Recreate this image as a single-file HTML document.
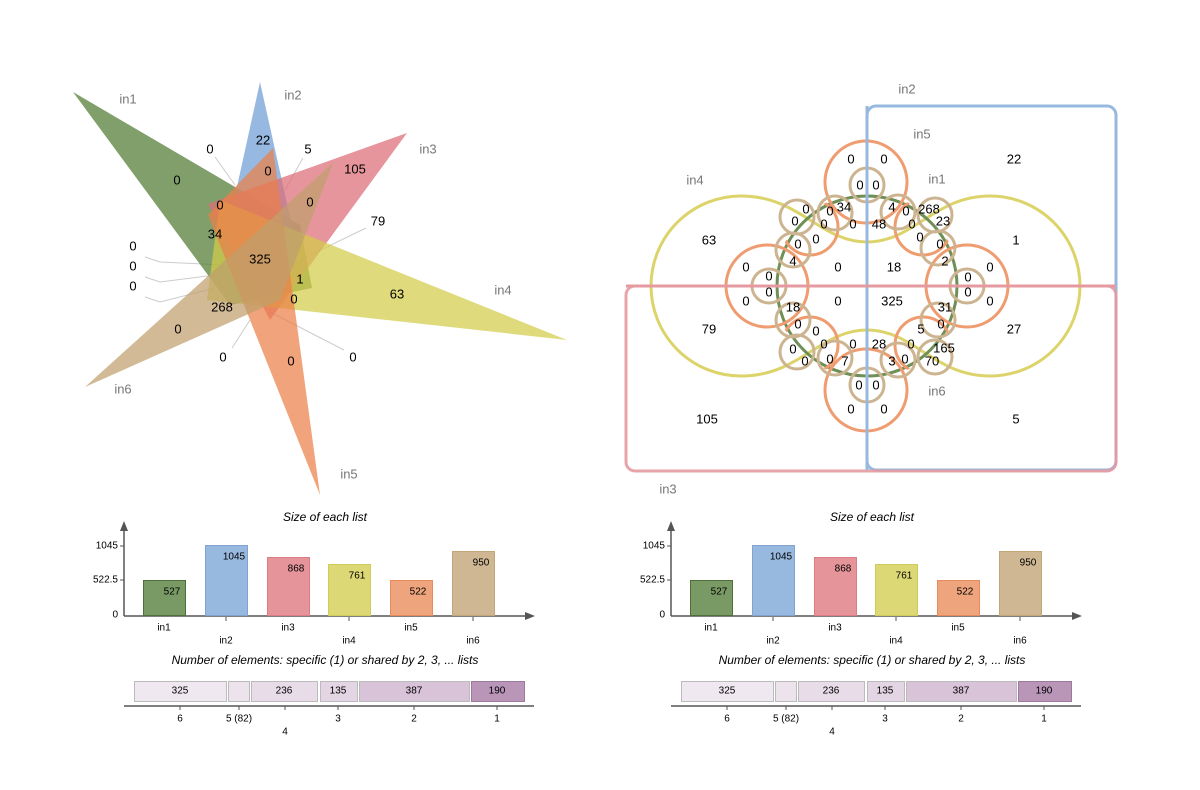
<!DOCTYPE html>
<html><head><meta charset="utf-8"><style>
html,body{margin:0;padding:0;background:#fff;}
svg{display:block;font-family:"Liberation Sans",Arial,sans-serif;}
.n{font-size:13px;fill:#000;text-anchor:middle;dominant-baseline:middle;}
.l{font-size:13px;fill:#777;text-anchor:middle;dominant-baseline:middle;}
.s{font-size:10px;fill:#000;text-anchor:middle;dominant-baseline:middle;}
.t{font-size:12px;font-style:italic;fill:#000;text-anchor:middle;dominant-baseline:middle;}
</style></head><body>
<svg width="1200" height="790" viewBox="0 0 1200 790" xmlns="http://www.w3.org/2000/svg">
<defs>
<clipPath id="inner"><circle cx="867" cy="286" r="93"/></clipPath>
</defs>
<!-- LEFT VENN -->
<g stroke="#ccc" stroke-width="1" fill="none">
<polyline points="145,257 160,262 225,265"/>
<polyline points="145,277 160,282 215,275"/>
<polyline points="145,297 160,302 215,288"/>
<polyline points="215,157 235,185"/>
<polyline points="303,158 285,190"/>
<polyline points="366,228 300,260"/>
<polyline points="344,350 270,312"/>
<polyline points="232,348 250,320"/>
</g>
<g fill-opacity="0.72">
<polygon points="73,92 300,225 312,288 230,305" fill="#4f7a32"/>
<polygon points="260,82 300,262 222,255" fill="#6f9ed6"/>
<polygon points="407,133 208,204 270,320" fill="#dc6c76"/>
<polygon points="567,340 207,300 220,200" fill="#d2cc48"/>
<polygon points="320,495 208,215 273,148" fill="#eb7f48"/>
<polygon points="85,387 333,163 280,300" fill="#bf9f6c"/>
</g>
<text class="l" x="128" y="100">in1</text><text class="l" x="293" y="96">in2</text>
<text class="l" x="428" y="150">in3</text><text class="l" x="503" y="291">in4</text>
<text class="l" x="349" y="475">in5</text><text class="l" x="123" y="390">in6</text>
<text class="n" x="263" y="141">22</text><text class="n" x="210" y="150">0</text>
<text class="n" x="308" y="150">5</text><text class="n" x="355" y="170">105</text>
<text class="n" x="177" y="181">0</text><text class="n" x="268" y="172">0</text>
<text class="n" x="220" y="206">0</text><text class="n" x="310" y="203">0</text>
<text class="n" x="378" y="222">79</text><text class="n" x="215" y="235">34</text>
<text class="n" x="260" y="260">325</text><text class="n" x="133" y="247">0</text>
<text class="n" x="133" y="267">0</text><text class="n" x="133" y="287">0</text>
<text class="n" x="300" y="280">1</text><text class="n" x="397" y="295">63</text>
<text class="n" x="294" y="300">0</text><text class="n" x="222" y="308">268</text>
<text class="n" x="178" y="330">0</text><text class="n" x="223" y="358">0</text>
<text class="n" x="291" y="362">0</text><text class="n" x="353" y="358">0</text>

<!-- RIGHT VENN -->
<g fill="none" stroke-width="3">
<rect x="867" y="106" width="249" height="364" rx="9" stroke="#98b9df"/>
<rect x="626" y="286" width="490" height="185" rx="9" stroke="#e59aa0" opacity="0.9"/>
<path d="M741,196 C800,196 820,242 867,242 C914,242 934,196 990,196 A90,90 0 0 1 990,376 C934,376 914,330 867,330 C820,330 800,376 741,376 A90,90 0 0 1 741,196 Z" stroke="#dcd46a"/>
<circle cx="867" cy="286" r="90" stroke="#6e8f55"/>
<g stroke="#ee9c70">
<circle cx="866" cy="182" r="41"/><circle cx="866" cy="390" r="41"/>
<circle cx="767" cy="286" r="41"/><circle cx="967" cy="286" r="41"/>
<g clip-path="url(#inner)">
<circle cx="810" cy="227" r="28"/><circle cx="923" cy="227" r="28"/>
<circle cx="810" cy="345" r="28"/><circle cx="923" cy="345" r="28"/>
</g>
</g>
<g stroke="#cdb491">
<circle cx="867" cy="185" r="17"/><circle cx="867" cy="385" r="17"/>
<circle cx="769" cy="286" r="17"/><circle cx="967" cy="286" r="17"/>
<circle cx="797" cy="217" r="17"/><circle cx="835" cy="213" r="17"/>
<circle cx="898" cy="212" r="17"/><circle cx="935" cy="215" r="17"/>
<circle cx="938" cy="248" r="17"/><circle cx="938" cy="320" r="17"/>
<circle cx="935" cy="357" r="17"/><circle cx="898" cy="360" r="17"/>
<circle cx="835" cy="358" r="17"/><circle cx="797" cy="352" r="17"/>
<circle cx="793" cy="320" r="17"/><circle cx="793" cy="250" r="17"/>
</g>
<line x1="867" y1="106" x2="867" y2="470" stroke="#98b9df"/>
<line x1="626" y1="286" x2="1116" y2="286" stroke="#e59aa0"/>
</g>
<text class="l" x="907" y="90">in2</text><text class="l" x="922" y="135">in5</text>
<text class="l" x="695" y="181">in4</text><text class="l" x="937" y="180">in1</text>
<text class="l" x="937" y="392">in6</text><text class="l" x="668" y="490">in3</text>
<g>
<text class="n" x="851" y="160">0</text><text class="n" x="884" y="160">0</text><text class="n" x="1014" y="160">22</text>
<text class="n" x="860" y="186">0</text><text class="n" x="876" y="186">0</text>
<text class="n" x="806" y="210">0</text><text class="n" x="830" y="212">0</text><text class="n" x="844" y="208">34</text>
<text class="n" x="892" y="208">4</text><text class="n" x="906" y="212">0</text><text class="n" x="929" y="210">268</text><text class="n" x="943" y="222">23</text>
<text class="n" x="795" y="222">0</text><text class="n" x="824" y="225">0</text><text class="n" x="853" y="225">0</text><text class="n" x="879" y="225">48</text><text class="n" x="912" y="225">0</text>
<text class="n" x="709" y="241">63</text><text class="n" x="816" y="240">0</text><text class="n" x="920" y="238">0</text><text class="n" x="1016" y="241">1</text>
<text class="n" x="798" y="245">0</text><text class="n" x="940" y="245">0</text>
<text class="n" x="793" y="262">4</text><text class="n" x="945" y="262">2</text>
<text class="n" x="746" y="268">0</text><text class="n" x="769" y="277">0</text><text class="n" x="838" y="268">0</text><text class="n" x="894" y="268">18</text><text class="n" x="968" y="278">0</text><text class="n" x="990" y="268">0</text>
<text class="n" x="769" y="293">0</text><text class="n" x="968" y="293">0</text>
<text class="n" x="746" y="302">0</text><text class="n" x="838" y="302">0</text><text class="n" x="892" y="302">325</text><text class="n" x="990" y="302">0</text>
<text class="n" x="793" y="308">18</text><text class="n" x="945" y="308">31</text>
<text class="n" x="709" y="330">79</text><text class="n" x="1014" y="330">27</text>
<text class="n" x="798" y="325">0</text><text class="n" x="816" y="332">0</text><text class="n" x="921" y="330">5</text><text class="n" x="941" y="325">0</text>
<text class="n" x="793" y="350">0</text><text class="n" x="824" y="345">0</text><text class="n" x="853" y="345">0</text><text class="n" x="879" y="345">28</text><text class="n" x="911" y="345">0</text><text class="n" x="944" y="349">165</text>
<text class="n" x="805" y="362">0</text><text class="n" x="830" y="360">0</text><text class="n" x="845" y="362">7</text><text class="n" x="892" y="362">3</text><text class="n" x="905" y="360">0</text><text class="n" x="932" y="362">70</text>
<text class="n" x="859" y="386">0</text><text class="n" x="876" y="386">0</text>
<text class="n" x="707" y="420">105</text><text class="n" x="1016" y="420">5</text>
<text class="n" x="851" y="410">0</text><text class="n" x="884" y="410">0</text>
</g>

<!-- BAR CHARTS -->
<defs>
<g id="bars">
<text class="t" x="325" y="518">Size of each list</text>
<line x1="124" y1="616" x2="124" y2="528" stroke="#555" stroke-width="1.5"/>
<polygon points="124,521 120,531 128,531" fill="#555"/>
<line x1="124" y1="616" x2="527" y2="616" stroke="#555" stroke-width="1.5"/>
<polygon points="535,616 525,612 525,620" fill="#555"/>
<line x1="120" y1="546" x2="124" y2="546" stroke="#555"/><line x1="120" y1="580" x2="124" y2="580" stroke="#555"/>
<text class="s" x="118" y="546" style="text-anchor:end">1045</text>
<text class="s" x="118" y="580" style="text-anchor:end">522.5</text>
<text class="s" x="118" y="615" style="text-anchor:end">0</text>
<rect x="143.5" y="580.5" width="42" height="35" fill="#7a9a65" stroke="#4f6e3a"/>
<rect x="205.5" y="545.5" width="42" height="70" fill="#98b9df" stroke="#7fa4d0"/>
<rect x="267.5" y="557.5" width="42" height="58" fill="#e5959a" stroke="#dd7c83"/>
<rect x="328.5" y="564.5" width="42" height="51" fill="#dcd875" stroke="#d1cc5a"/>
<rect x="390.5" y="580.5" width="42" height="35" fill="#eea47c" stroke="#e98a5d"/>
<rect x="452.5" y="551.5" width="42" height="64" fill="#cfb793" stroke="#c2a679"/>
<text class="s" x="172" y="592">527</text><text class="s" x="234" y="557">1045</text>
<text class="s" x="296" y="569">868</text><text class="s" x="357" y="576">761</text>
<text class="s" x="418" y="592">522</text><text class="s" x="481" y="563">950</text>
<g stroke="#555"><line x1="226" y1="617" x2="226" y2="621"/><line x1="349" y1="617" x2="349" y2="621"/><line x1="473" y1="617" x2="473" y2="621"/></g>
<text class="s" x="164" y="628">in1</text><text class="s" x="226" y="641">in2</text>
<text class="s" x="288" y="628">in3</text><text class="s" x="349" y="641">in4</text>
<text class="s" x="411" y="628">in5</text><text class="s" x="473" y="641">in6</text>
<text class="t" x="325" y="661">Number of elements: specific (1) or shared by 2, 3, ... lists</text>
<g stroke="#bbb" stroke-width="1">
<rect x="134.5" y="681.5" width="92" height="20" fill="#efe8f0"/>
<rect x="228.5" y="681.5" width="21" height="20" fill="#ece3ed"/>
<rect x="251.5" y="681.5" width="66" height="20" fill="#e8dce8"/>
<rect x="320.5" y="681.5" width="37" height="20" fill="#e3d5e3"/>
<rect x="359.5" y="681.5" width="110" height="20" fill="#d8c3d8"/>
<rect x="471.5" y="681.5" width="53" height="20" fill="#b995b8" stroke="#9c7a9b"/>
</g>
<text class="s" x="180" y="691">325</text><text class="s" x="284" y="691">236</text>
<text class="s" x="338" y="691">135</text><text class="s" x="414" y="691">387</text>
<text class="s" x="497" y="691">190</text>
<line x1="124" y1="706" x2="534" y2="706" stroke="#555" stroke-width="1.5"/>
<g stroke="#555"><line x1="180" y1="706" x2="180" y2="710"/><line x1="239" y1="706" x2="239" y2="710"/><line x1="285" y1="706" x2="285" y2="710"/><line x1="338" y1="706" x2="338" y2="710"/><line x1="414" y1="706" x2="414" y2="710"/><line x1="497" y1="706" x2="497" y2="710"/></g>
<text class="s" x="180" y="719">6</text><text class="s" x="239" y="719">5 (82)</text>
<text class="s" x="338" y="719">3</text><text class="s" x="414" y="719">2</text>
<text class="s" x="497" y="719">1</text><text class="s" x="285" y="732">4</text>
</g>
</defs>
<use href="#bars"/>
<use href="#bars" transform="translate(547,0)"/>
</svg>
</body></html>
